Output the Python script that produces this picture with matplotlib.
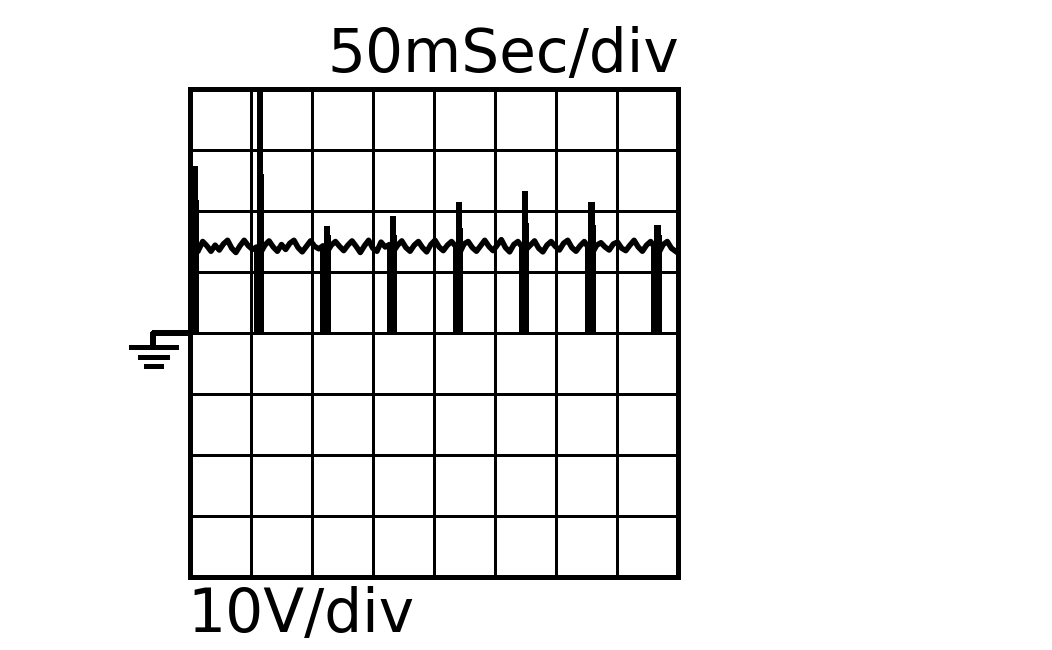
import matplotlib
matplotlib.use('Agg')
import matplotlib.pyplot as plt
import numpy as np

# time in ms (50 ms/div), voltage in V (10 V/div), one pixel is about 0.82 ms
pulse_left = [0, 52.5, 106.6, 161.5, 215.7, 269.8, 323.9, 378]
pulse_foot_width = [7, 8, 8.5, 8, 8, 8, 8, 8]
pulse_foot_v = [14.3, 14.3, 14.3, 14.3, 14.3, 14.3, 14.3, 14.3]
spike_left = [1.6, 54.9, 109.9, 164, 218, 272, 326.4, 380.5]
spike_step_v = [21.8, 26, 16, 16, 17.2, 18, 17.7, 16]
spike_peak_v = [27.4, 39.8, 17.5, 19.2, 21.5, 23.3, 21.5, 17.7]

trace_v = [
    13.6, 15.0, 14.3, 13.4, 14.4, 13.6, 14.6, 15.2, 13.9, 13.2, 14.3, 15.2, 14.3, 13.7, 14.1, 13.2,
    14.4, 15.1, 14.1, 13.4, 14.5, 13.7, 14.7, 15.2, 14.0, 13.3, 14.2, 15.1, 14.2, 13.8, 14.3, 13.3,
    14.4, 15.0, 14.2, 13.5, 14.4, 15.1, 14.2, 13.2, 14.3, 15.2, 13.9, 13.4, 14.9, 14.1, 14.5, 13.4,
    14.4, 15.1, 14.0, 13.4, 14.4, 15.0, 14.0, 13.3, 14.5, 15.2, 14.1, 13.5, 14.4, 15.0, 14.2, 13.2,
    14.6, 15.0, 14.0, 13.4, 14.3, 15.2, 14.2, 13.5, 14.4, 15.3, 14.0, 13.3, 14.5, 15.0, 14.1, 13.7,
    14.4, 15.1, 13.9, 13.3, 14.4, 15.0, 14.2, 13.6, 14.7, 15.2, 14.0, 13.4, 14.3, 15.0, 14.0, 13.2,
    14.4, 14.8, 14.1, 13.6, 14.6, 14.9, 13.9, 13.5, 14.4, 15.2, 14.1, 13.4, 14.4, 15.0, 14.0, 13.2,
    14.5, 15.0, 13.9, 13.4,
]
trace_t = np.linspace(7, 398, len(trace_v))

time_ticks = [0, 50, 100, 150, 200, 250, 300, 350, 400]
volt_ticks = [-40, -30, -20, -10, 0, 10, 20, 30, 40]

px = 0.72  # points per pixel at dpi 100

fig = plt.figure(figsize=(10.52, 6.5), dpi=100)
ax = fig.add_axes([190 / 1052, 1 - 577 / 650, 488 / 1052, 488 / 650])
ax.set_xlim(0, 400)
ax.set_ylim(-40, 40)
ax.set_xticks(time_ticks)
ax.set_yticks(volt_ticks)
ax.tick_params(length=0, labelbottom=False, labelleft=False)
ax.grid(True, color='black', linewidth=3 * px)
ax.set_axisbelow(True)
for s in ax.spines.values():
    s.set_linewidth(5 * px)
    s.set_capstyle('projecting')

# pulses, wide at the foot and narrowing up to the spike
ax.bar(pulse_left, pulse_foot_v, width=pulse_foot_width, align='edge', color='black', antialiased=False)
ax.bar(spike_left, spike_step_v, width=6, align='edge', color='black', antialiased=False)
ax.bar(spike_left, spike_peak_v, width=5.2, align='edge', color='black', antialiased=False)

ax.plot(trace_t, trace_v, color='black', linewidth=5.5 * px, solid_joinstyle='round')

# ground symbol
ax.plot([0, -30.5, -30.5], [0, 0, -2.3], color='black', linewidth=4.4 * px, clip_on=False, antialiased=False)
ax.plot([-48.5, -11.5], [-2.3, -2.3], color='black', linewidth=4.5 * px, clip_on=False, antialiased=False)
ax.plot([-41, -19], [-3.9, -3.9], color='black', linewidth=4.5 * px, clip_on=False, antialiased=False)
ax.plot([-36, -24], [-5.4, -5.4], color='black', linewidth=4.5 * px, clip_on=False, antialiased=False)

fig.text(327 / 1052, 1 - 72 / 650, '50mSec/div', fontsize=43, family='DejaVu Sans', color='black')
fig.text(187 / 1052, 1 - 632 / 650, '10V/div', fontsize=43, family='DejaVu Sans', color='black')

fig.savefig('out.png', dpi=100)
